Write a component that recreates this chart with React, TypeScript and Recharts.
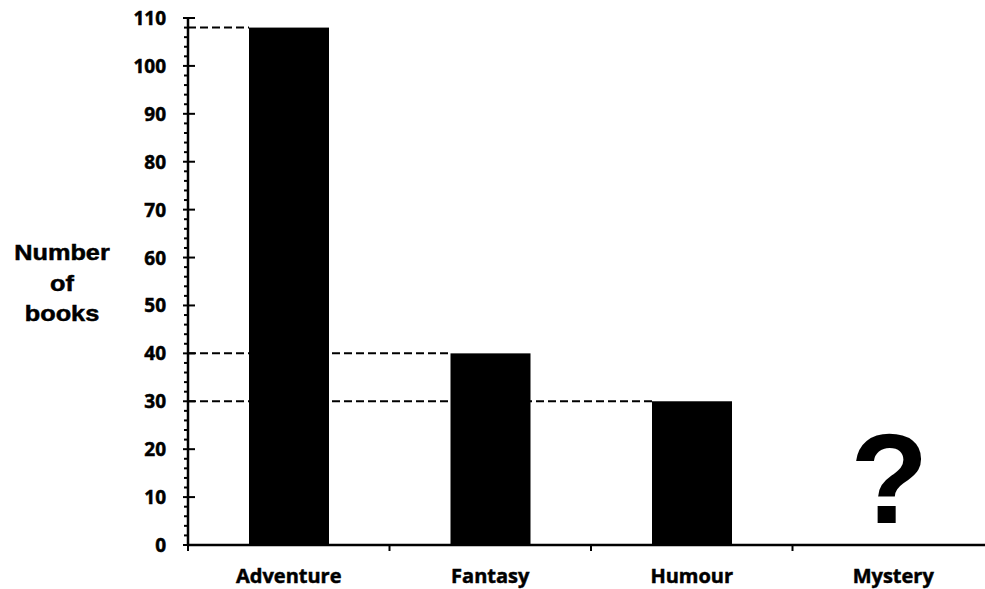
import React from 'react';
import { BarChart, Bar, XAxis, YAxis, ReferenceDot } from 'recharts';

const categories = ['Adventure', 'Fantasy', 'Humour', 'Mystery'];
const books: (number | null)[] = [108, 40, 30, null];
const minorTicks = Array.from({ length: 56 }, (_, i) => i * 2);
const axisTitle = ['Number', 'of', 'books'];

const data = categories.map((name, i) => ({ name, books: books[i] }));

const Y_AXIS_WIDTH = 188;
const CHART_MARGIN = { top: 18, right: 0, left: 0, bottom: 0 };
const PLOT_LEFT = CHART_MARGIN.left + Y_AXIS_WIDTH;
const LABEL_FONT = '"Open Sans", "Liberation Sans", sans-serif';
const TITLE_FONT = '"Liberation Sans", Arial, sans-serif';

const YTick = (props: any) => {
  const { x, y, payload } = props;
  const major = payload.value % 10 === 0;
  if (!major) {
    return <line x1={x - 4} y1={y} x2={x + 1} y2={y} stroke="#000" strokeWidth={2} />;
  }
  return (
    <g>
      <line x1={x - 5} y1={y} x2={x + 7} y2={y} stroke="#000" strokeWidth={2} />
      <text
        x={x - 22}
        y={y}
        textAnchor="end"
        dominantBaseline="central"
        fontFamily={LABEL_FONT}
        fontWeight={700}
        fontSize={19}
        fill="#000"
        stroke="#000"
        strokeWidth={0.5}
      >
        {payload.value}
      </text>
    </g>
  );
};

const XTick = (props: any) => {
  const { x, y, payload } = props;
  const edge = x - (payload.offset || 0);
  return (
    <g>
      <line x1={edge} y1={y} x2={edge} y2={y + 6} stroke="#000" strokeWidth={2} />
      <text
        x={x}
        y={y + 38}
        textAnchor="middle"
        fontFamily={LABEL_FONT}
        fontWeight={700}
        fontSize={20}
        fill="#000"
        stroke="#000"
        strokeWidth={0.5}
      >
        {payload.value}
      </text>
    </g>
  );
};

const AxisTitle = (props: any) => {
  const { viewBox } = props;
  const cx = viewBox.x + 62;
  const cy = viewBox.y + viewBox.height / 2 + 9;
  return (
    <text
      textAnchor="middle"
      fontFamily={TITLE_FONT}
      fontWeight={700}
      fontSize={22}
      fill="#000"
      stroke="#000"
      strokeWidth={0.5}
      transform={`translate(${cx} ${cy}) scale(1.15 1)`}
    >
      {axisTitle.map((t, i) => (
        <tspan key={t} x={0} y={(i - 1) * 31}>
          {t}
        </tspan>
      ))}
    </text>
  );
};

// bar + dashed guide from the y axis to the top-left corner of the bar
const BookBar = (props: any) => {
  const { x, y, width, height, payload } = props;
  if (payload.books == null) return null;
  return (
    <g>
      <line
        x1={PLOT_LEFT}
        y1={y}
        x2={x}
        y2={y}
        stroke="#000"
        strokeWidth={2}
        strokeDasharray="8 4"
      />
      <rect x={x} y={y} width={width} height={height} fill="#000" />
    </g>
  );
};

const Unknown = (props: any) => {
  const { cx, cy } = props;
  return (
    <text
      x={cx - 4}
      y={cy - 22}
      textAnchor="middle"
      fontFamily={TITLE_FONT}
      fontWeight={700}
      fontSize={128}
      fill="#000"
    >
      ?
    </text>
  );
};

export default function App() {
  return (
    <div
      style={{
        position: 'absolute',
        left: 0,
        top: 0,
        width: 985,
        height: 589,
        overflow: 'hidden',
        background: '#fff',
      }}
    >
      <BarChart width={994} height={589} data={data} margin={CHART_MARGIN}>
        <XAxis
          dataKey="name"
          height={44}
          axisLine={{ stroke: '#000', strokeWidth: 2.5 }}
          tickLine={false}
          tickSize={0}
          tickMargin={0}
          interval={0}
          tick={<XTick />}
        />
        <YAxis
          type="number"
          domain={[0, 110]}
          ticks={minorTicks}
          interval={0}
          width={Y_AXIS_WIDTH}
          axisLine={{ stroke: '#000', strokeWidth: 2.5 }}
          tickLine={false}
          tickSize={0}
          tickMargin={0}
          tick={<YTick />}
          label={<AxisTitle />}
        />
        <Bar dataKey="books" barSize={80} shape={<BookBar />} isAnimationActive={false} />
        <ReferenceDot x="Mystery" y={0} r={0} shape={<Unknown />} />
      </BarChart>
    </div>
  );
}
